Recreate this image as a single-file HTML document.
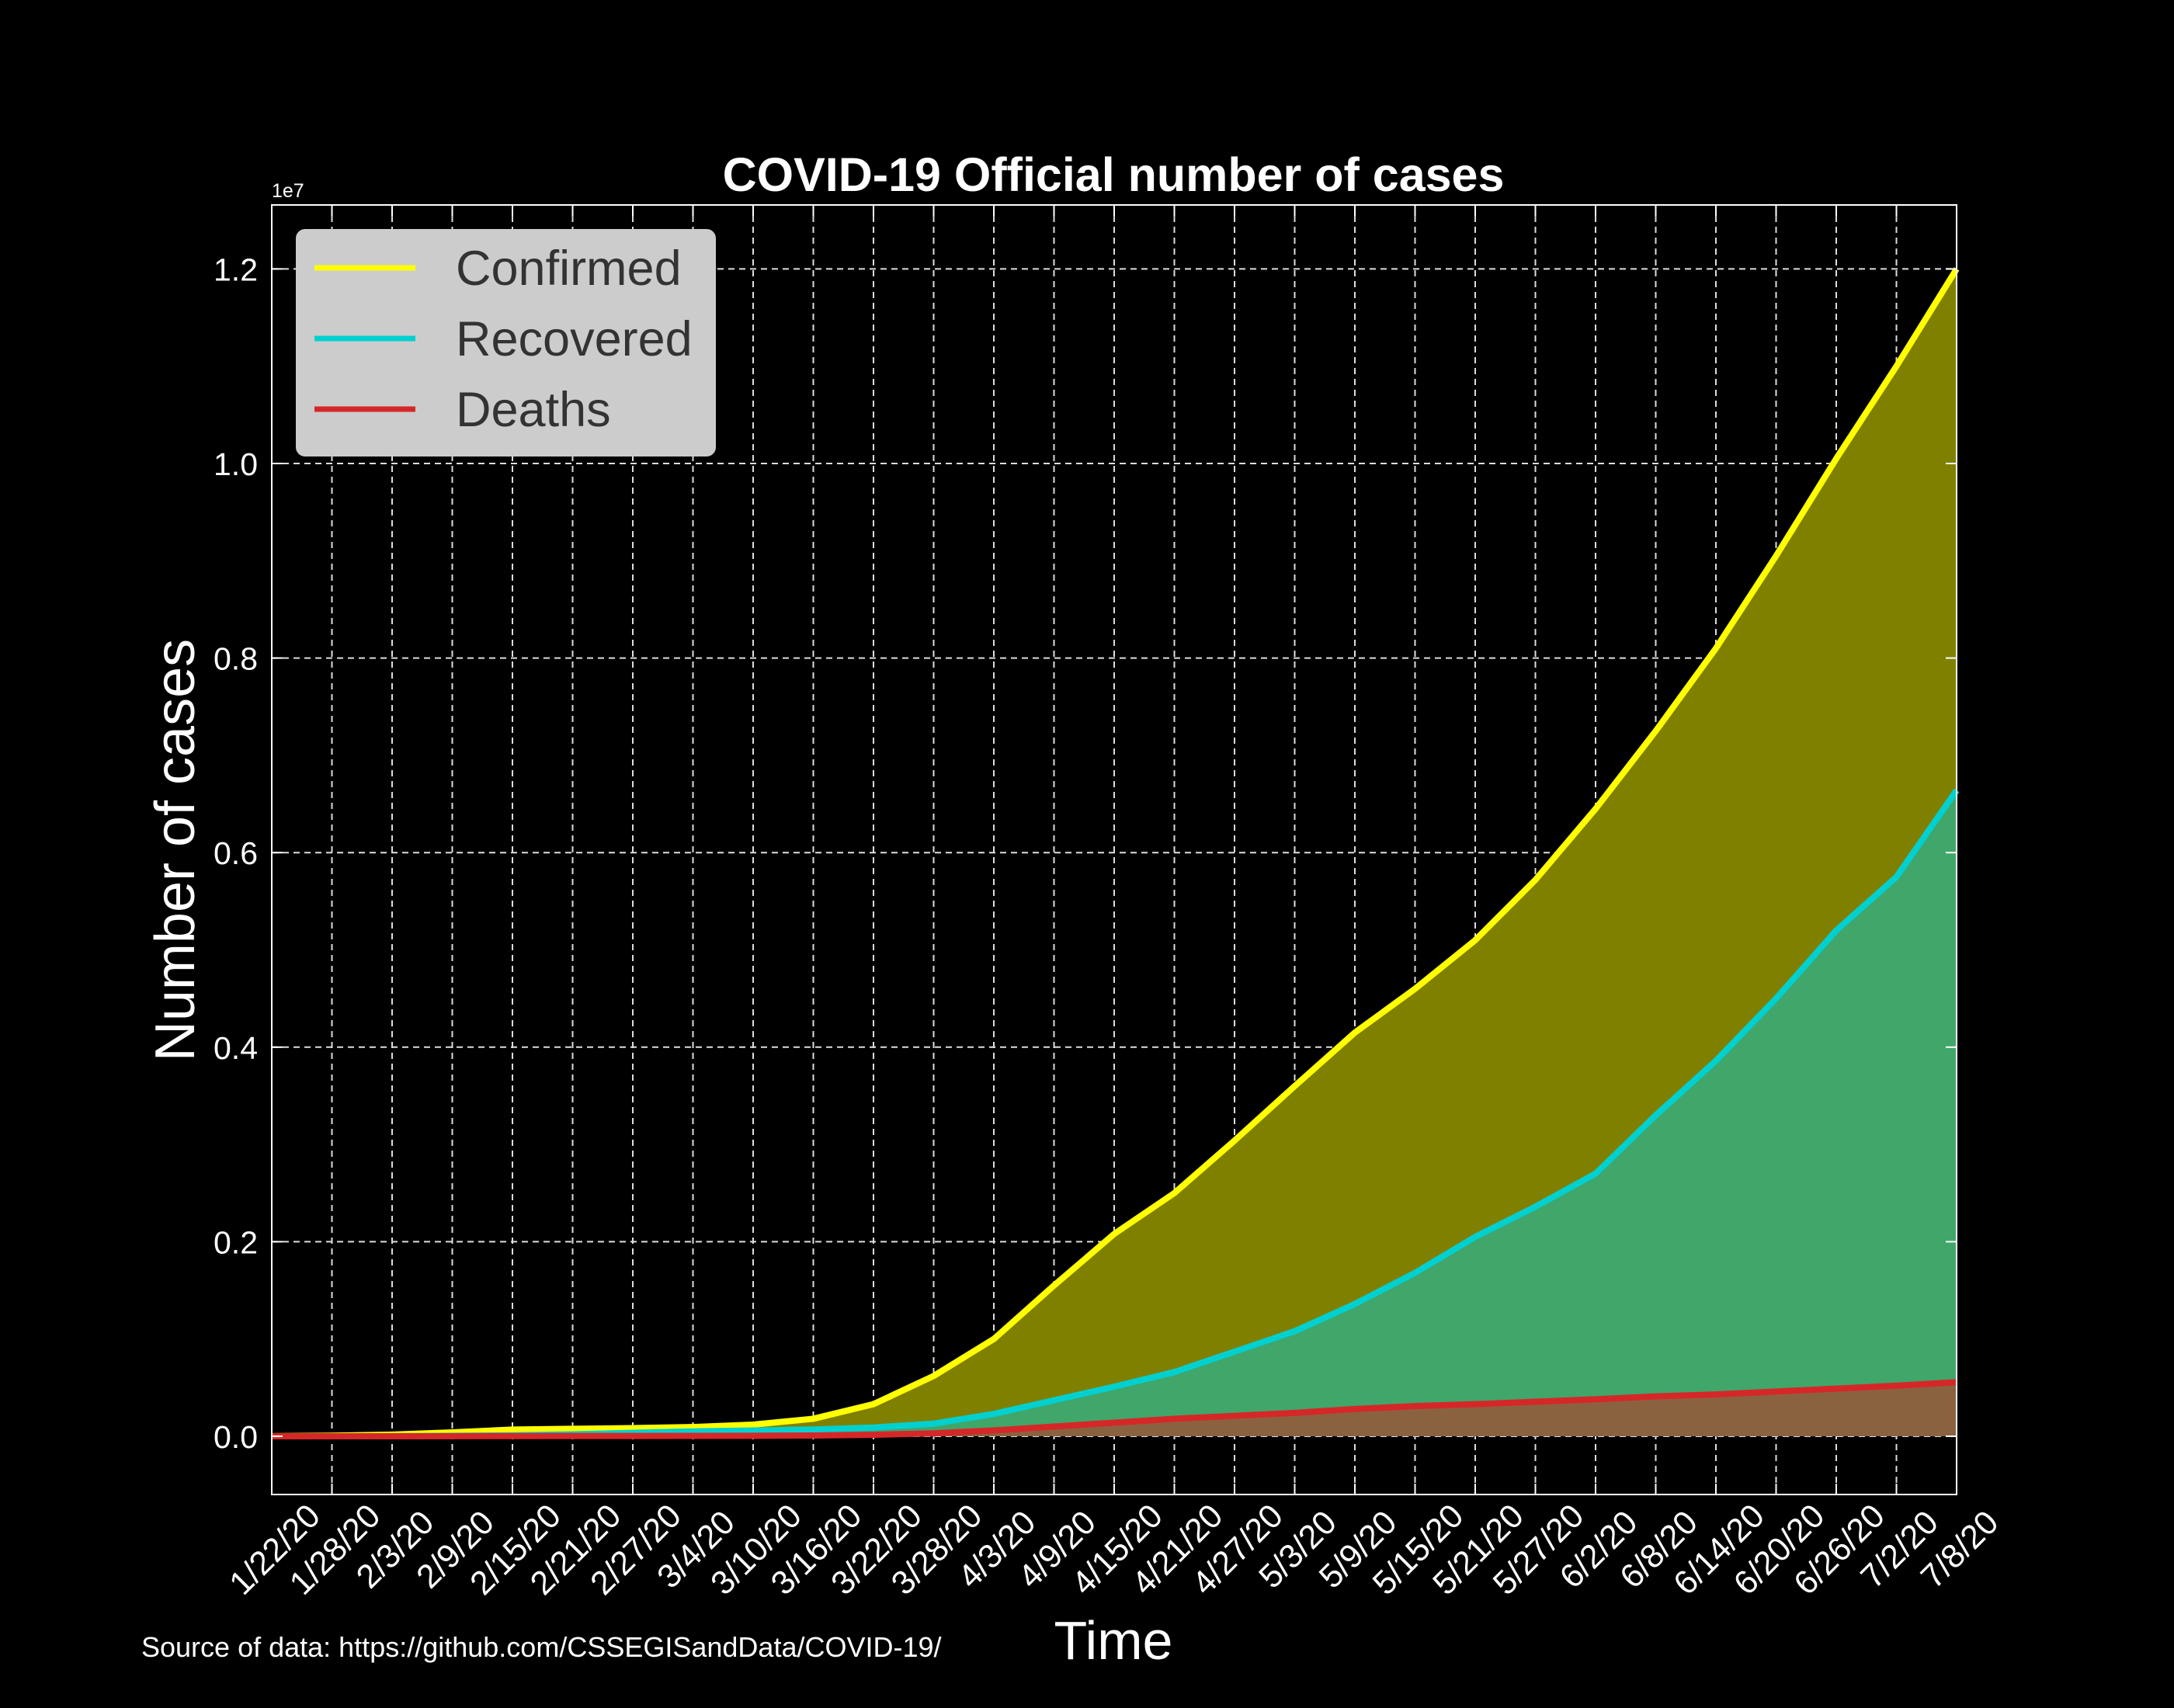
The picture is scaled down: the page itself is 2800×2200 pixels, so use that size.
<!DOCTYPE html>
<html><head><meta charset="utf-8"><style>
html,body{margin:0;padding:0;background:#000;}
svg{display:block;font-family:"Liberation Sans",Arial,sans-serif;}
</style></head><body>
<svg id="chart" width="2800" height="2200" viewBox="0 0 2800 2200" xmlns="http://www.w3.org/2000/svg">
<rect width="2800" height="2200" fill="#000"/>
<g id="grid"></g>
<g id="fills"></g>
<g id="lines"></g>
<g id="axes"></g>
<text x="1434" y="246" text-anchor="middle" fill="#fff" font-size="61" font-weight="bold">COVID-19 Official number of cases</text>
<text x="350" y="254" fill="#fff" font-size="25">1e7</text>
<text transform="translate(250,1095) rotate(-90)" text-anchor="middle" fill="#fff" font-size="72">Number of cases</text>
<text x="1434" y="2137" text-anchor="middle" fill="#fff" font-size="70">Time</text>
<text x="182" y="2134" fill="#fff" font-size="36">Source of data: https://github.com/CSSEGISandData/COVID-19/</text>
<g>
<rect x="381" y="295" width="541" height="293" rx="12" fill="#cccccc"/>
<line x1="405" y1="345" x2="535" y2="345" stroke="#ffff00" stroke-width="7"/>
<text x="587" y="367" fill="#333" font-size="63">Confirmed</text>
<line x1="405" y1="436" x2="535" y2="436" stroke="#00d0d0" stroke-width="7"/>
<text x="587" y="458" fill="#333" font-size="63">Recovered</text>
<line x1="405" y1="527" x2="535" y2="527" stroke="#d62728" stroke-width="7"/>
<text x="587" y="549" fill="#333" font-size="63">Deaths</text>
</g>
</svg>
<script>
const dateLabels=["1/22/20","1/28/20","2/3/20","2/9/20","2/15/20","2/21/20","2/27/20","3/4/20","3/10/20","3/16/20","3/22/20","3/28/20","4/3/20","4/9/20","4/15/20","4/21/20","4/27/20","5/3/20","5/9/20","5/15/20","5/21/20","5/27/20","6/2/20","6/8/20","6/14/20","6/20/20","6/26/20","7/2/20","7/8/20"];
const confirmed=[0.0006,0.006,0.017,0.04,0.069,0.077,0.084,0.095,0.12,0.18,0.33,0.62,1.0,1.55,2.08,2.5,3.04,3.6,4.15,4.6,5.1,5.72,6.45,7.25,8.1,9.05,10.05,11.0,12.0];
const recovered=[0,0.0001,0.0005,0.005,0.01,0.02,0.036,0.05,0.06,0.07,0.09,0.13,0.23,0.37,0.51,0.66,0.87,1.08,1.36,1.68,2.05,2.36,2.7,3.3,3.86,4.5,5.2,5.75,6.64];
const deaths=[0,0.0001,0.0004,0.001,0.002,0.003,0.003,0.004,0.005,0.008,0.015,0.03,0.06,0.1,0.14,0.18,0.21,0.24,0.28,0.31,0.33,0.355,0.38,0.41,0.43,0.46,0.49,0.52,0.556];
const yTicks=[0,0.2,0.4,0.6,0.8,1.0,1.2];
const NS="http://www.w3.org/2000/svg";
const L=350,R=2520,T=264,B=1925;
function xs(i){return L+(R-L)*i/(dateLabels.length-1);}
function ys(v){return 1850-v*125.3;}
function mk(tag,attrs,parent){const e=document.createElementNS(NS,tag);for(const k in attrs)e.setAttribute(k,attrs[k]);parent.appendChild(e);return e;}
const grid=document.getElementById('grid'),fills=document.getElementById('fills'),lines=document.getElementById('lines'),axes=document.getElementById('axes');
dateLabels.forEach((d,i)=>{
  const x=xs(i);
  const g=mk('line',{x1:x,y1:T,x2:x,y2:B,stroke:'#ddd','stroke-width':2,'stroke-dasharray':'8,6'},grid);
  
  
  const t1=mk('line',{x1:x,y1:B,x2:x,y2:B-14,stroke:'#fff','stroke-width':2},axes);
  
  
  const t2=mk('line',{x1:x,y1:T,x2:x,y2:T+14,stroke:'#fff','stroke-width':2},axes);
  
  
  const lb=mk('text',{transform:`translate(${x+6},1998) rotate(-45)`,'text-anchor':'middle','dominant-baseline':'middle',fill:'#fff','font-size':43},axes);
  lb.textContent=d;
  
  
});
yTicks.forEach(v=>{
  const y=ys(v*10);
  const g=mk('line',{x1:L,y1:y,x2:R,y2:y,stroke:'#ddd','stroke-width':2,'stroke-dasharray':'8,6'},grid);
  
  
  const t1=mk('line',{x1:L,y1:y,x2:L+14,y2:y,stroke:'#fff','stroke-width':2},axes);
  
  
  const t2=mk('line',{x1:R,y1:y,x2:R-14,y2:y,stroke:'#fff','stroke-width':2},axes);
  
  
  const lb=mk('text',{x:L-18,y:y+15,'text-anchor':'end',fill:'#fff','font-size':41},axes);
  lb.textContent=v.toFixed(1);
  
  
});
const fr=mk('rect',{x:L,y:T,width:R-L,height:B-T,fill:'none',stroke:'#fff','stroke-width':2},axes);


function pts(arr){return arr.map((v,i)=>xs(i)+','+ys(v)).join(' ');}
const series=[[confirmed,'#808000','#ffff00','confirmed'],[recovered,'#40a66a','#00d0d0','recovered'],[deaths,'#8b6240','#d62728','deaths']];
series.forEach(([arr,fc,lc,nm])=>{
  const p=mk('polygon',{points:pts(arr)+' '+xs(arr.length-1)+','+ys(0)+' '+xs(0)+','+ys(0),fill:fc},fills);
  
  
});
series.forEach(([arr,fc,lc,nm])=>{
  const l=mk('polyline',{points:pts(arr),fill:'none',stroke:lc,'stroke-width':8,'stroke-linejoin':'round'},lines);
  
  
});
</script>
</body></html>
